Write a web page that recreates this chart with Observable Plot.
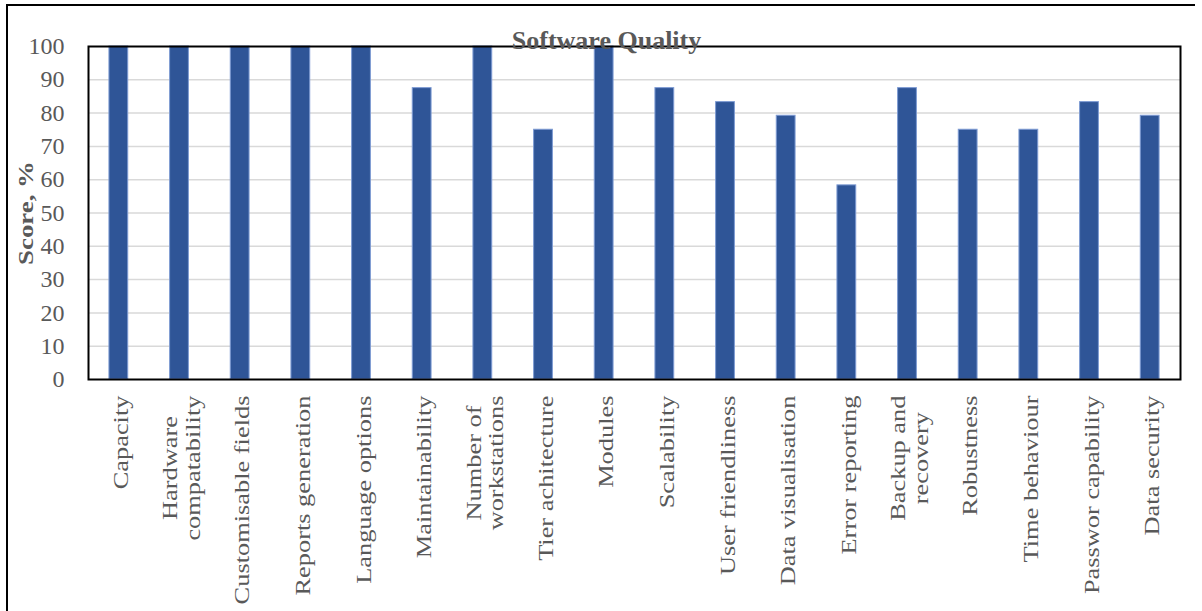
<!DOCTYPE html>
<html>
<head>
<meta charset="utf-8">
<script src="https://cdn.jsdelivr.net/npm/d3@7"></script>
<script src="https://cdn.jsdelivr.net/npm/@observablehq/plot@0.6"></script>
<style>
  body { margin: 0; background: #fff; }
  #wrap { position: relative; width: 1202px; height: 611px; overflow: hidden; background: #fff; }
  #wrap svg { position: absolute; left: 0; top: 0; }
  #border { position: absolute; left: 6px; top: 4px; width: 1187px; height: 640px;
            border-top: 2px solid #000; border-left: 2px solid #000; pointer-events: none; z-index: 1; }
</style>
</head>
<body>
<div id="wrap"><div id="border"></div></div>
<script>
// Quality criteria (two-line labels use "\n") and their scores in percent
const categories = [
  "Capacity",
  "Hardware\ncompatability",
  "Customisable fields",
  "Reports generation",
  "Language options",
  "Maintainability",
  "Number of\nworkstations",
  "Tier achitecture",
  "Modules",
  "Scalability",
  "User friendliness",
  "Data visualisation",
  "Error reporting",
  "Backup and\nrecovery",
  "Robustness",
  "Time behaviour",
  "Passwor capability",
  "Data security"
];
const scores = [100, 100, 100, 100, 100, 87.5, 100, 75, 100, 87.5, 83.3, 79.2, 58.3, 87.5, 75, 75, 83.3, 79.2];
const yTicks = [0, 10, 20, 30, 40, 50, 60, 70, 80, 90, 100];
const chartTitle = "Software Quality";
const yLabel = "Score, %";

const rows = categories.map((c, i) => ({category: c, score: scores[i]}));

const serif = '"Liberation Serif", "Times New Roman", serif';
const textGray = "#595959";
const labelFont = 22;
const labelStretch = 1.2;   // category labels are drawn slightly elongated along their length
const yLabelStretch = 1.22;

const chart = Plot.plot({
  width: 1202,
  height: 611,
  marginLeft: 88,
  marginRight: 22,
  marginTop: 46,
  marginBottom: 232,
  style: {fontFamily: serif, background: "transparent"},
  x: {domain: categories, paddingInner: 0.69, paddingOuter: 0.345, round: false, axis: null},
  y: {domain: [0, 100], axis: null},
  marks: [
    Plot.gridY(yTicks.filter(t => t > 0 && t < 100), {stroke: "#d9d9d9", strokeOpacity: 1, strokeWidth: 1.5}),
    Plot.barY(rows, {x: "category", y: "score", fill: "#2f5597", stroke: "#7e9bd3", strokeWidth: 1}),
    Plot.frame({stroke: "#000", strokeWidth: 2}),
    // y tick labels
    Plot.text(yTicks, {
      y: d => d, text: d => String(d), frameAnchor: "left", dx: -24,
      textAnchor: "end", lineAnchor: "middle", fontSize: 24, fill: textGray
    }),
    // category labels, rotated
    Plot.text(categories, {
      x: d => d, text: d => d, frameAnchor: "bottom", dy: 16, dx: 2, rotate: -90,
      textAnchor: "middle", lineAnchor: "middle", lineHeight: 1.03,
      fontSize: labelFont, fill: textGray
    }),
    // y axis title
    Plot.text([yLabel], {
      text: d => d, frameAnchor: "left", dx: -63, rotate: -90,
      textAnchor: "middle", lineAnchor: "middle", fontSize: 22, fontWeight: "bold",
      fill: textGray
    }),
    // chart title, sitting on the top edge of the frame
    Plot.text([chartTitle], {
      text: d => d, frameAnchor: "top", dx: -28, dy: -6,
      lineAnchor: "middle", fontSize: 26, fontWeight: "bold", fill: textGray
    })
  ]
});

// Text mark groups in mark order: y ticks, category labels, y title, chart title
const textGroups = chart.querySelectorAll('g[aria-label="text"]');

// Top-align each rotated label block just below the axis, with its lines centred on each other
const ctx = document.createElement("canvas").getContext("2d");
ctx.font = `${labelFont}px "Liberation Serif"`;
const labelGroup = textGroups[1];
if (labelGroup) {
  labelGroup.querySelectorAll("text").forEach((t, j) => {
    const lines = categories[j].split("\n");
    const len = Math.max(...lines.map(s => ctx.measureText(s).width)) * labelStretch;
    t.setAttribute("transform", `${t.getAttribute("transform") || ""} translate(${-len / 2},0) scale(${labelStretch},1)`);
  });
}
const yLabelGroup = textGroups[2];
if (yLabelGroup) {
  yLabelGroup.querySelectorAll("text").forEach(t => {
    t.setAttribute("transform", `${t.getAttribute("transform") || ""} scale(${yLabelStretch},1)`);
  });
}

document.getElementById("wrap").appendChild(chart);
</script>
</body>
</html>
